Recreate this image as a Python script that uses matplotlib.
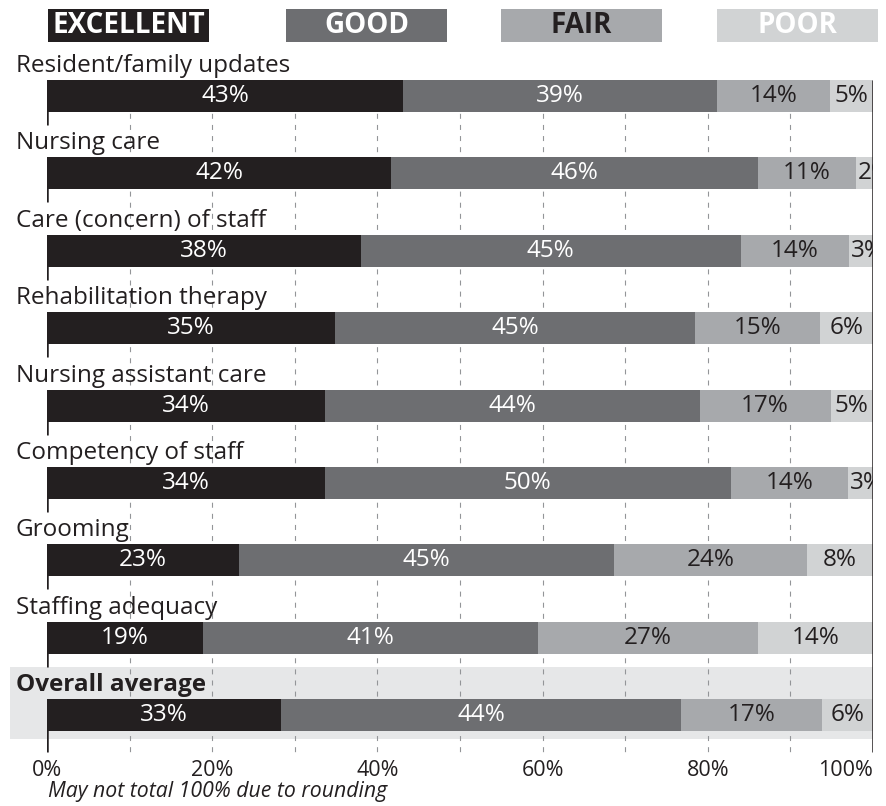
import matplotlib
matplotlib.use("Agg")
import matplotlib.pyplot as plt
from matplotlib.patches import Rectangle

# ---------------- data ----------------
categories = ["Resident/family updates", "Nursing care", "Care (concern) of staff",
              "Rehabilitation therapy", "Nursing assistant care", "Competency of staff",
              "Grooming", "Staffing adequacy", "Overall average"]
levels = ["EXCELLENT", "GOOD", "FAIR", "POOR"]
excellent = [43.1, 41.7, 38.0, 34.9, 33.7, 33.6, 23.3, 18.9, 28.3]
good      = [38.0, 44.4, 46.0, 43.5, 45.3, 49.2, 45.3, 40.5, 48.5]
fair      = [13.7, 11.8, 13.1, 15.2, 15.9, 14.2, 23.4, 26.7, 17.0]
poor      = [5.2, 2.1, 2.9, 6.4, 5.1, 3.0, 8.0, 13.9, 6.2]
excellent_lbl = ["43%", "42%", "38%", "35%", "34%", "34%", "23%", "19%", "33%"]
good_lbl      = ["39%", "46%", "45%", "45%", "44%", "50%", "45%", "41%", "44%"]
fair_lbl      = ["14%", "11%", "14%", "15%", "17%", "14%", "24%", "27%", "17%"]
poor_lbl      = ["5%", "2%", "3%", "6%", "5%", "3%", "8%", "14%", "6%"]
xticks = [0, 20, 40, 60, 80, 100]
xtick_labels = ["0%", "20%", "40%", "60%", "80%", "100%"]
gridlines = [10, 20, 30, 40, 50, 60, 70, 80, 90]
footnote = "May not total 100% due to rounding"

# ---------------- style ----------------
FONT = ["Open Sans", "DejaVu Sans"]
plt.rcParams["font.family"] = FONT
DARK = "#231f20"
colors = ["#231f20", "#6d6e71", "#a7a9ac", "#d1d3d4"]
lbl_colors = ["white", "white", DARK, DARK]
legend_txt_colors = ["white", "white", DARK, "white"]
BAND = "#e6e7e8"
GRID = "#939598"

W, H = 886, 806
PITCH = 77.4          # px per row
ROW0 = 96             # px, centre of first row
fig = plt.figure(figsize=(W / 100, H / 100), dpi=100)
X0, X1 = 47, 873
ax = fig.add_axes([X0 / W, 0, (X1 - X0) / W, 1])
ax.set_xlim(0, 100)
ax.set_ylim((H - ROW0) / PITCH, -ROW0 / PITCH)
ax.axis("off")

def rows(px):
    return px / PITCH

bar_h = rows(32)
n = len(categories)
ys = list(range(n))

# overall band
band_top = rows(667 - ROW0)
band_bot = rows(739 - ROW0)
ax.add_patch(Rectangle((-(X0 - 10) / (X1 - X0) * 100, band_top),
                       100 + (X0 - 10) / (X1 - X0) * 100, band_bot - band_top,
                       facecolor=BAND, edgecolor="none", zorder=0, clip_on=False))

# gridlines
ax.vlines(gridlines, -bar_h / 2, rows(756 - ROW0), colors=GRID, lw=0.8,
          linestyles=(0, (4.5, 5.5)), zorder=1)

# bars
series = [excellent, good, fair, poor]
labels = [excellent_lbl, good_lbl, fair_lbl, poor_lbl]
left = [0.0] * n
for k in range(4):
    bars = ax.barh(ys, series[k], left=left, height=bar_h, color=colors[k],
                   edgecolor="none", zorder=2)
    for i in range(n):
        v = series[k][i]
        if k == 3 and v < 4.5:
            t = ax.text(left[i] + 0.25, ys[i], labels[k][i], ha="left", va="center",
                        color=lbl_colors[k], fontsize=17.5, zorder=4, clip_on=True)
            t.set_clip_path(bars[i])
        else:
            ax.text(left[i] + v / 2, ys[i], labels[k][i], ha="center", va="center",
                    color=lbl_colors[k], fontsize=17.5, zorder=4)
    left = [left[i] + series[k][i] for i in range(n)]

# axis lines
axis_bottom = rows(752 - ROW0)
tops = [y - bar_h / 2 for y in ys]
bots = [y + bar_h / 2 + rows(13) for y in ys[:-1]] + [axis_bottom]
ax.vlines([0] * n, tops, bots, colors=DARK, lw=1.8, zorder=3)
ax.vlines(100, -bar_h / 2, axis_bottom, colors=DARK, lw=1.8, zorder=3)

# category labels
lab_x = (16 - X0) / (X1 - X0) * 100
for i, c in enumerate(categories):
    bold = (i == n - 1)
    ax.text(lab_x, ys[i] - bar_h / 2 - rows(8), c, ha="left", va="baseline",
            fontsize=17.5, color=DARK, fontweight="bold" if bold else "normal",
            zorder=4, clip_on=False)

# x tick labels
for x, t in zip(xticks, xtick_labels):
    ax.text(x, rows(770 - ROW0), t, ha="right" if x == 100 else "center",
            va="center", fontsize=15.5, color=DARK, clip_on=False)

# footnote
ax.text((48 - X0) / (X1 - X0) * 100, rows(797 - ROW0), footnote, ha="left",
        va="baseline", fontsize=15.3, style="italic", color=DARK, clip_on=False)

# legend
leg_x = [48, 286, 501, 717]
leg_w = 161
leg_y0, leg_y1 = 9, 42
for k in range(4):
    fig.add_artist(Rectangle((leg_x[k] / W, 1 - leg_y1 / H), leg_w / W,
                             (leg_y1 - leg_y0) / H, transform=fig.transFigure,
                             facecolor=colors[k], edgecolor="none"))
    fig.text((leg_x[k] + leg_w / 2) / W, 1 - (leg_y0 + leg_y1) / 2 / H, levels[k],
             ha="center", va="center", fontsize=20, fontweight="bold",
             color=legend_txt_colors[k])

fig.savefig("out.png", dpi=100)
